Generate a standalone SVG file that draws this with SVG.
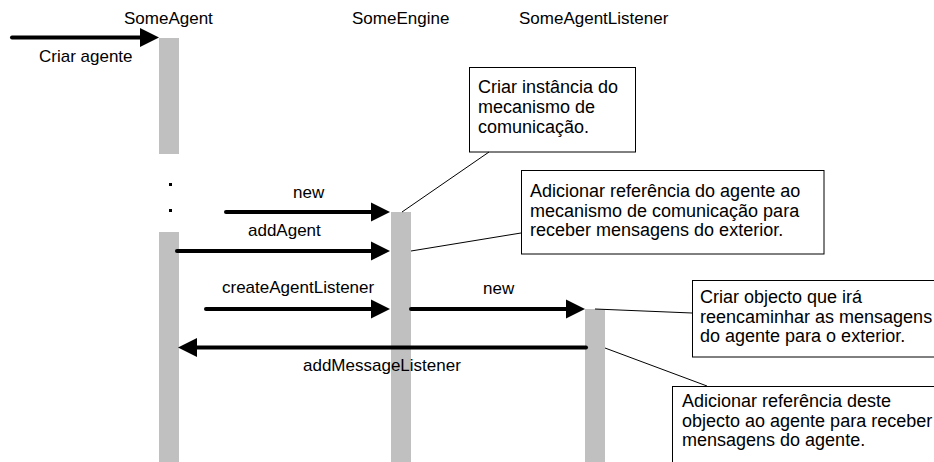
<svg xmlns="http://www.w3.org/2000/svg" width="934" height="462" viewBox="0 0 934 462">
<style>
text{font-family:"Liberation Sans",Arial,sans-serif;font-size:17px;fill:#000}
.nt{font-size:18px}
.bar{fill:#c0c0c0}
.msg{stroke:#000;stroke-width:4;stroke-linecap:round;fill:none;marker-end:url(#ah)}
.lnk{stroke:#000;stroke-width:1;fill:none}
.note{fill:#fff;stroke:#000;stroke-width:1}
</style>
<defs>
<marker id="ah" markerUnits="userSpaceOnUse" markerWidth="22" markerHeight="22" viewBox="-1 -11 22 22" refX="9" refY="0" orient="auto">
<path d="M0,-9.5 L19,0 L0,9.5 Z" fill="#000"/>
</marker>
</defs>
<g id="SomeAgent">
<text x="124" y="24">SomeAgent</text>
<rect class="bar" x="159" y="38" width="20" height="116"/>
<rect x="169" y="183" width="3" height="3" fill="#000"/>
<rect x="169" y="209" width="3" height="3" fill="#000"/>
<rect class="bar" x="159" y="232" width="20" height="230"/>
</g>
<g id="SomeEngine">
<text x="352" y="24">SomeEngine</text>
<rect class="bar" x="391" y="212" width="20" height="250"/>
</g>
<g id="SomeAgentListener">
<text x="519" y="24">SomeAgentListener</text>
<rect class="bar" x="585" y="309" width="20" height="153"/>
</g>
<g id="note1">
<rect class="note" x="469.5" y="67.5" width="166" height="84.5"/>
<text class="nt" x="478" y="93">Criar instância do</text>
<text class="nt" x="478" y="113">mecanismo de</text>
<text class="nt" x="478" y="133">comunicação.</text>
</g>
<g id="note2">
<rect class="note" x="521.5" y="170.5" width="302.5" height="83.5"/>
<text class="nt" x="530" y="197">Adicionar referência do agente ao</text>
<text class="nt" x="530" y="217">mecanismo de comunicação para</text>
<text class="nt" x="530" y="236">receber mensagens do exterior.</text>
</g>
<g id="note3">
<rect class="note" x="692.5" y="280.5" width="260" height="76.5"/>
<text class="nt" x="700" y="303">Criar objecto que irá</text>
<text class="nt" x="700" y="323">reencaminhar as mensagens</text>
<text class="nt" x="700" y="342">do agente para o exterior.</text>
</g>
<g id="note4">
<rect class="note" x="672.5" y="386.5" width="280" height="100"/>
<text class="nt" x="682" y="407">Adicionar referência deste</text>
<text class="nt" x="682" y="427">objecto ao agente para receber</text>
<text class="nt" x="682" y="446">mensagens do agente.</text>
</g>
<g id="connectors">
<path class="msg" d="M12,37.5 H149"/>
<path class="msg" d="M226,212 H380"/>
<path class="msg" d="M177,251 H380"/>
<path class="msg" d="M206,309 H380"/>
<path class="msg" d="M411,309 H575"/>
<path class="msg" d="M586,347.5 H188"/>
<path class="lnk" d="M402,212 L489,152"/>
<path class="lnk" d="M411,251 L521,233"/>
<path class="lnk" d="M595,309 L692,313"/>
<path class="lnk" d="M605,348 L707,386"/>
<text x="39" y="62">Criar agente</text>
<text x="293" y="198">new</text>
<text x="248" y="236">addAgent</text>
<text x="222" y="293">createAgentListener</text>
<text x="483" y="294">new</text>
<text x="303" y="371">addMessageListener</text>
</g>
</svg>
